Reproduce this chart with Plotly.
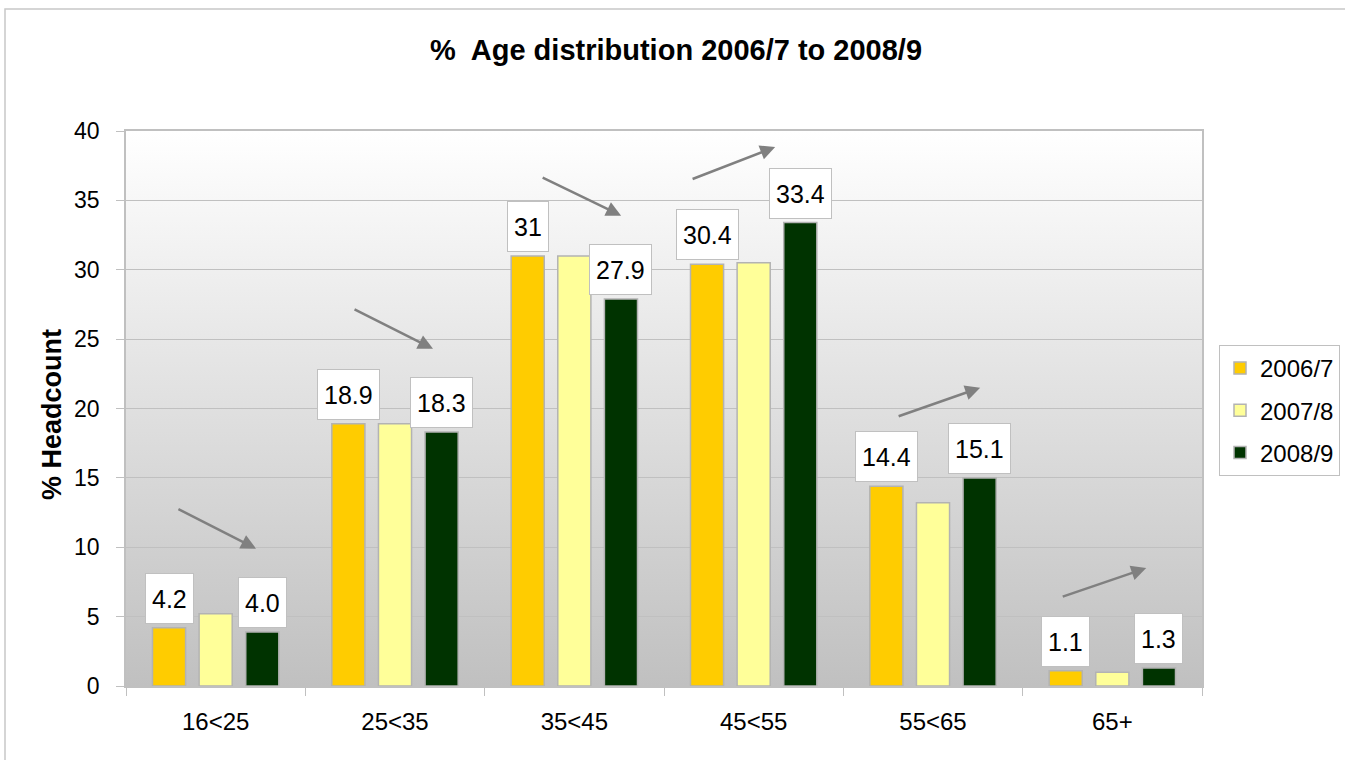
import base64
import plotly.graph_objects as go

# ---- data ----
categories = ['16<25', '25<35', '35<45', '45<55', '55<65', '65+']
series_names = ['2006/7', '2007/8', '2008/9']
v2006 = [4.2, 18.9, 31.0, 30.4, 14.4, 1.1]
v2007 = [5.2, 18.9, 31.0, 30.5, 13.2, 1.0]
v2008 = [3.9, 18.3, 27.9, 33.4, 15.0, 1.3]
labels2006 = ['4.2', '18.9', '31', '30.4', '14.4', '1.1']
labels2008 = ['4.0', '18.3', '27.9', '33.4', '15.1', '1.3']
y_ticks = [0, 5, 10, 15, 20, 25, 30, 35, 40]
# trend arrows: (category index, tail offset, tail y, head offset, head y)
trend_arrows = [
    (0, -0.216, 12.8, 0.225, 9.9),
    (1, -0.234, 27.2, 0.212, 24.3),
    (2, -0.185, 36.7, 0.261, 33.9),
    (3, -0.349, 36.5, 0.120, 38.85),
    (4, -0.200, 19.4, 0.263, 21.5),
    (5, -0.285, 6.4, 0.189, 8.5),
]

colors = ['#FFCC00', '#FFFF99', '#003300']
FONT = 'Liberation Sans, Arial, sans-serif'
BARGAP = 0.22
BARGROUPGAP = 0.29

fig = go.Figure()
for name, vals, col in zip(series_names, [v2006, v2007, v2008], colors):
    fig.add_trace(go.Bar(
        x=list(range(len(categories))), y=vals, name=name,
        marker=dict(color=col, line=dict(color='#b3b3b3', width=1.5)),
        legendgroup=name,
    ))

# gradient background for plot area
svg = ('<svg xmlns="http://www.w3.org/2000/svg" width="100" height="100" preserveAspectRatio="none">'
       '<defs><linearGradient id="g" x1="0" y1="0" x2="0" y2="1">'
       '<stop offset="0" stop-color="#ffffff"/><stop offset="1" stop-color="#c0c0c0"/>'
       '</linearGradient></defs><rect width="100" height="100" fill="url(#g)"/></svg>')
src = 'data:image/svg+xml;base64,' + base64.b64encode(svg.encode()).decode()

annotations = []
off = (1 - BARGAP) / 3
for i in range(len(categories)):
    for dx, val, txt in [(-off, v2006[i], labels2006[i]), (off, v2008[i], labels2008[i])]:
        annotations.append(dict(
            x=i + dx, y=val, xref='x', yref='y', text=txt, showarrow=False,
            yanchor='bottom', xanchor='center', yshift=4,
            font=dict(family=FONT, size=25, color='#000000'),
            bgcolor='#ffffff', bordercolor='#c0c0c0', borderwidth=1,
            borderpad=6, height=37,
        ))
for (ci, tdx, ty, hdx, hy) in trend_arrows:
    annotations.append(dict(
        x=ci + hdx, y=hy, ax=ci + tdx, ay=ty, xref='x', yref='y', axref='x', ayref='y',
        text='', showarrow=True, arrowhead=2, arrowsize=1.2, arrowwidth=2.5,
        arrowcolor='#808080', standoff=0, startstandoff=0,
    ))
annotations.append(dict(
    x=-0.0688, y=0.49, xref='paper', yref='paper', text='<b>% Headcount</b>',
    textangle=-90, showarrow=False, xanchor='center', yanchor='middle',
    font=dict(family=FONT, size=27, color='#000000'),
))

fig.update_layout(
    width=1345, height=760,
    margin=dict(l=126, r=143, t=131, b=74, autoexpand=False),
    paper_bgcolor='#ffffff', plot_bgcolor='rgba(0,0,0,0)',
    barmode='group', bargap=BARGAP, bargroupgap=BARGROUPGAP,
    title=dict(text='<b>%  Age distribution 2006/7 to 2008/9</b>',
               x=676 / 1345, xref='container', xanchor='center',
               y=1 - 50 / 760, yref='container', yanchor='middle',
               font=dict(family=FONT, size=29, color='#000000')),
    font=dict(family=FONT, color='#000000'),
    showlegend=True,
    legend=dict(x=(1219 - 126) / 1076, y=(686 - 345) / 555, xanchor='left', yanchor='top',
                bordercolor='#c0c0c0', borderwidth=1, bgcolor='#ffffff',
                font=dict(family=FONT, size=24, color='#000000'),
                traceorder='grouped', tracegroupgap=8),
    images=[dict(source=src, xref='paper', yref='paper', x=0, y=1, sizex=1, sizey=1,
                 sizing='stretch', layer='below', xanchor='left', yanchor='top')],
    annotations=annotations,
    shapes=[dict(type='rect', xref='paper', yref='paper',
                 x0=(5 - 126) / 1076, x1=1.3, y0=-0.3, y1=1 + (131 - 9) / 555,
                 line=dict(color='#c8c8c8', width=1.5), fillcolor='rgba(0,0,0,0)', layer='below')],
)
fig.update_xaxes(
    tickmode='array', tickvals=list(range(len(categories))), ticktext=categories,
    range=[-0.5, len(categories) - 0.5],
    showgrid=False, showline=True, linecolor='#c0c0c0', linewidth=1.5, mirror=True,
    ticks='', tickfont=dict(family=FONT, size=24, color='#000000'), ticklabelstandoff=13,
    zeroline=False,
    minor=dict(tickmode='array', tickvals=[i - 0.5 for i in range(len(categories) + 1)],
               ticks='outside', ticklen=8, tickcolor='#c0c0c0', showgrid=False),
)
fig.update_yaxes(
    range=[0, 40], tickvals=y_ticks, showgrid=True, gridcolor='#c0c0c0', gridwidth=1,
    showline=True, linecolor='#c0c0c0', linewidth=1.5, mirror=True,
    ticks='outside', ticklen=8, tickcolor='#c0c0c0',
    tickfont=dict(family=FONT, size=23, color='#000000'), ticklabelstandoff=12,
    zeroline=False,
)
fig.write_html('out.html')
